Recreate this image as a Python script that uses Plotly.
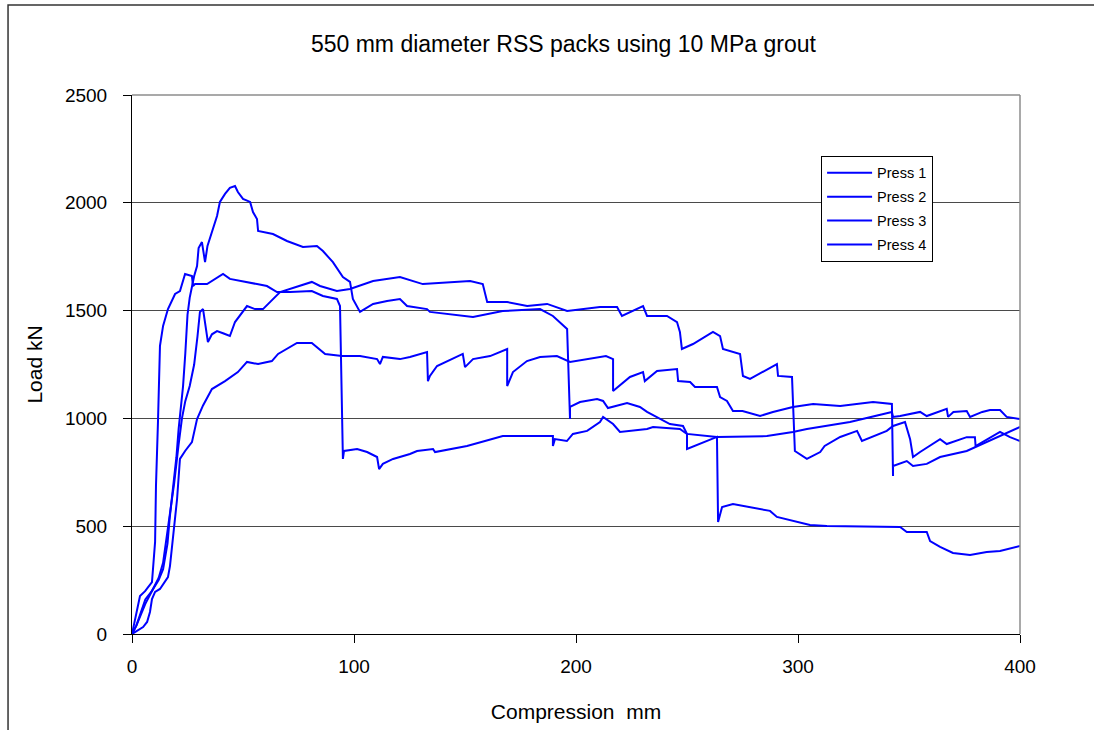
import plotly.graph_objects as go

# ---- data (compression mm, load kN) ----
press1_x = [0, 2, 4, 6, 9, 12, 14, 16, 17, 18, 19, 20, 21, 22, 23, 24, 25, 26, 27, 28, 29.3, 30, 31.5, 32.9, 34, 35, 36.5,
            38.3, 39.6, 41.9, 44.1, 46.4, 47.7, 50, 53.2, 54.5, 56.3, 56.8, 63.5, 69.8, 77, 83.3, 86, 90.5, 95, 98.2, 99.5,
            102.7, 108.6, 114.9, 120.7, 123.9, 132.9, 134.2, 153.6, 167, 183.8, 189.6, 196, 197.3, 197.3, 201.8, 209.5,
            212.2, 214.4, 223, 228.8, 232, 237.8, 242.3, 248.2, 250, 263.5, 286, 297.7, 304, 323.4, 342.3, 342.8, 346,
            355, 358, 367, 367.6, 370, 376, 377.5, 383, 386.5, 391, 394, 400]
press1_y = [0, 40, 100, 160, 200, 250, 300, 420, 540, 626, 720, 820, 950, 1050, 1150, 1300, 1480, 1560, 1614, 1660, 1707,
            1790, 1818, 1725, 1800, 1830, 1878, 1939, 2004, 2041, 2069, 2078, 2050, 2018, 2004, 1957, 1925, 1869, 1855,
            1823, 1795, 1800, 1776, 1725, 1656, 1633, 1554, 1494, 1531, 1545, 1554, 1521, 1507, 1494, 1470, 1498, 1507,
            1475, 1415, 997, 1053, 1076, 1090, 1081, 1048, 1071, 1053, 1030, 997, 974, 965, 928, 914, 918, 937, 951,
            983, 1030, 1007, 1011, 1030, 1011, 1044, 1007, 1030, 1034, 1007, 1030, 1039, 1039, 1007, 997]

press2_x = [0, 2, 4, 6, 8, 10, 12, 14, 15.5, 17, 18, 19, 20, 21, 22.5, 24, 26, 28, 29.5, 30.6, 32, 34.2, 36, 38.3, 41,
            44.1, 46.4, 51.8, 55.4, 59, 66.7, 75.7, 81, 84.7, 92.3, 98.2, 108.6, 120.7, 131, 152.3, 158, 160, 169, 178,
            187, 196, 210.8, 218.5, 220.7, 230.2, 232, 241, 245.5, 246.8, 247.7, 252.7, 261.7, 264.9, 266.2, 273.9,
            275.2, 278.4, 290.5, 291, 297.3, 298.6, 304, 310, 312, 319, 326.6, 328.8, 340, 342.8, 348.2, 350.5, 351.8,
            355, 364, 367, 376, 379.7, 380, 391, 395.5, 400]
press2_y = [0, 40, 90, 140, 180, 220, 260, 330, 450, 560, 626, 700, 800, 880, 1000, 1080, 1150, 1250, 1380, 1494, 1507,
            1354, 1390, 1405, 1395, 1382, 1447, 1521, 1507, 1507, 1586, 1614, 1633, 1614, 1591, 1600, 1637, 1656, 1623,
            1637, 1623, 1540, 1540, 1521, 1531, 1498, 1517, 1517, 1475, 1521, 1475, 1475, 1447, 1401, 1322, 1345, 1401,
            1382, 1322, 1299, 1197, 1183, 1252, 1197, 1192, 849, 812, 844, 872, 914, 942, 895, 942, 965, 983, 904, 821,
            844, 904, 881, 913, 913, 872, 937, 913, 895]

press3_x = [0, 5, 6.8, 8.1, 9, 10.4, 12.6, 14.9, 16.2, 17.1, 18, 18.5, 19.4, 20.3, 21.6, 24, 27, 29.3, 32, 36, 41.9,
            47.7, 51.8, 56.8, 63, 65.8, 74.3, 81, 87, 94.6, 102.7, 110.4, 111.7, 113, 120.7, 125.2, 132.9, 133.3, 134.2,
            137.4, 149, 150, 153.6, 161.3, 169, 169, 171.6, 177.9, 183.8, 191.4, 197.3, 210.8, 213.5, 216.7, 216.7,
            224.3, 230.2, 231, 236.5, 245.5, 246, 251.4, 253.6, 263.5, 264.9, 268, 270.7, 275, 282.9, 288.7, 297.7,
            306.8, 319, 333.8, 342.3, 342.8, 342.8, 349, 351.8, 358, 364, 376, 391, 400]
press3_y = [0, 32, 56, 102, 162, 195, 209, 241, 264, 315, 408, 431, 547, 626, 812, 850, 890, 997, 1060, 1136, 1173,
            1215, 1262, 1252, 1266, 1299, 1350, 1350, 1299, 1289, 1289, 1275, 1252, 1285, 1275, 1285, 1308, 1173, 1197,
            1243, 1299, 1238, 1275, 1289, 1322, 1150, 1215, 1266, 1285, 1289, 1262, 1285, 1289, 1275, 1127, 1192, 1215,
            1173, 1220, 1229, 1173, 1169, 1146, 1146, 1099, 1081, 1034, 1034, 1011, 1030, 1053, 1067, 1058, 1076, 1067,
            733, 779, 802, 779, 789, 821, 849, 918, 960]

press4_x = [0, 3.6, 5.9, 9, 10.4, 10.8, 11.7, 12.6, 14, 16.2, 19.4, 21.6, 23.9, 27, 27.5, 28.4, 33.8, 41, 44.1, 50,
            56.3, 60.8, 65.3, 71.2, 81, 86, 92.3, 93.7, 94.6, 95, 95.5, 101.4, 105.9, 110.4, 111.3, 113, 117.6, 125.2,
            128.4, 135.6, 136.5, 143.2, 150.9, 159, 167, 189.6, 189.6, 190.5, 195.9, 198.6, 205, 210.8, 212.2, 216.7,
            219.8, 232, 234.7, 246.8, 250, 250, 255.9, 263.5, 264, 265.8, 270.7, 278.4, 287.4, 290.5, 297.7, 305.4,
            313, 346, 349, 358, 359.5, 364, 369.8, 377.5, 385, 391, 400]
press4_y = [0, 176, 199, 241, 427, 686, 983, 1336, 1429, 1507, 1577, 1591, 1670, 1660, 1614, 1623, 1623, 1670, 1647,
            1637, 1623, 1614, 1586, 1586, 1591, 1568, 1554, 1521, 1090, 812, 849, 858, 844, 821, 765, 789, 812, 835,
            849, 858, 844, 858, 872, 895, 918, 918, 872, 904, 895, 928, 942, 983, 1007, 974, 937, 951, 960, 951, 928,
            858, 881, 914, 520, 589, 603, 589, 571, 543, 524, 506, 501, 496, 473, 473, 431, 404, 376, 366, 380, 385, 408]

series = [("Press 1", press1_x, press1_y), ("Press 2", press2_x, press2_y),
          ("Press 3", press3_x, press3_y), ("Press 4", press4_x, press4_y)]

x_ticks = [0, 100, 200, 300, 400]
y_ticks = [0, 500, 1000, 1500, 2000, 2500]

FONT = "Arial, 'Liberation Sans', sans-serif"

fig = go.Figure()
for i, (name, xs, ys) in enumerate(series):
    fig.add_trace(go.Scatter(x=xs, y=ys, mode="lines", name=name, legendgroup=name,
                             line=dict(color="#0000FF", width=2)))

fig.update_layout(
    width=1094, height=730,
    margin=dict(l=132, r=74, t=95, b=96),
    paper_bgcolor="white", plot_bgcolor="white",
    font=dict(family=FONT, color="black"),
    title=dict(text="550 mm diameter RSS packs using 10 MPa grout", x=0.515, xanchor="center",
               y=0.94, yanchor="middle", font=dict(size=23, family=FONT, color="black")),
    showlegend=True,
    legend=dict(x=0.776, y=0.887, xanchor="left", yanchor="top", bgcolor="white",
                bordercolor="black", borderwidth=1, font=dict(size=14.5, family=FONT),
                traceorder="grouped", tracegroupgap=2, itemwidth=45),
    xaxis=dict(range=[0, 400], tickvals=x_ticks, ticks="outside", ticklen=8, tickcolor="black",
               showline=True, linecolor="black", linewidth=1, showgrid=False, zeroline=False,
               tickfont=dict(size=19, family=FONT), ticklabelstandoff=7,
               title=dict(text="Compression  mm", font=dict(size=21, family=FONT), standoff=28)),
    yaxis=dict(range=[0, 2500], tickvals=y_ticks, ticks="outside", ticklen=8, tickcolor="black",
               showline=True, linecolor="black", linewidth=1, showgrid=True, gridcolor="#4a4a4a",
               gridwidth=1, zeroline=False, tickfont=dict(size=19, family=FONT), ticklabelstandoff=12,
               title=dict(text="Load kN", font=dict(size=21, family=FONT), standoff=16)),
    shapes=[
        # plot-area border (top and right, grey)
        dict(type="line", xref="paper", yref="paper", x0=0, x1=1, y0=1, y1=1,
             line=dict(color="#8c8c8c", width=1.5), layer="above"),
        dict(type="line", xref="paper", yref="paper", x0=1, x1=1, y0=0, y1=1,
             line=dict(color="#8c8c8c", width=1.5), layer="above"),
        # outer chart frame
        dict(type="rect", xref="paper", yref="paper", x0=-0.1396, x1=1.2, y0=-0.3, y1=1.167,
             line=dict(color="#333333", width=1.5), layer="below"),
    ],
)

fig.write_html("out.html")
